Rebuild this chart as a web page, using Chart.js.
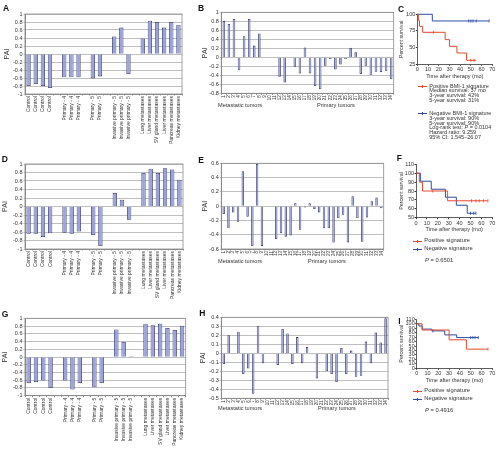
<!DOCTYPE html>
<html>
<head>
<meta charset="utf-8">
<script src="https://cdn.jsdelivr.net/npm/chart.js@4.4.1/dist/chart.umd.min.js"></script>
<style>
  body { margin: 0; background: #fff; }
  #fig { position: relative; width: 499px; height: 462px; overflow: hidden; font-family: "Liberation Sans", Arial, Helvetica, sans-serif; color: #333; }
  #fig canvas { position: absolute; }
  .lab { position: absolute; font-weight: bold; font-size: 8.5px; line-height: 8.5px; color: #111; }
  .txt { position: absolute; font-size: 5.6px; line-height: 5.6px; white-space: nowrap; }
  .leg { position: absolute; font-size: 5.5px; line-height: 4.7px; white-space: nowrap; }
  .key { position: absolute; width: 9px; height: 1px; }
  .key i { position: absolute; left: 4px; top: -1px; width: 1px; height: 3px; background: inherit; }
</style>
</head>
<body>
<div id="fig">
  <canvas id="chartA" width="192" height="152" style="left:0px;top:0px"></canvas>
  <canvas id="chartB" width="200" height="104" style="left:196px;top:0px"></canvas>
  <canvas id="chartC" width="103" height="82" style="left:396px;top:0px"></canvas>
  <canvas id="chartD" width="192" height="155" style="left:0px;top:152px"></canvas>
  <canvas id="chartE" width="200" height="108" style="left:196px;top:152px"></canvas>
  <canvas id="chartF" width="103" height="83" style="left:396px;top:152px"></canvas>
  <canvas id="chartG" width="192" height="155" style="left:0px;top:307px"></canvas>
  <canvas id="chartH" width="200" height="100" style="left:196px;top:307px"></canvas>
  <canvas id="chartI" width="103" height="79" style="left:396px;top:307px"></canvas>

  <div class="lab" style="left:3px;top:3.9px">A</div>
  <div class="lab" style="left:198px;top:3.9px">B</div>
  <div class="lab" style="left:398px;top:4.9px">C</div>
  <div class="lab" style="left:1.7px;top:154.6px">D</div>
  <div class="lab" style="left:198.3px;top:155.6px">E</div>
  <div class="lab" style="left:396.7px;top:153.9px">F</div>
  <div class="lab" style="left:1.7px;top:309.6px">G</div>
  <div class="lab" style="left:199.3px;top:308.9px">H</div>
  <div class="lab" style="left:398.3px;top:316.6px">I</div>

  <div class="txt" style="left:218px;top:102.9px">Metastatic tumors</div>
  <div class="txt" style="left:317px;top:102.9px">Primary tumors</div>
  <div class="txt" style="left:218px;top:258.9px">Metastatic tumors</div>
  <div class="txt" style="left:308px;top:258.9px">Primary tumors</div>
  <div class="txt" style="left:218px;top:406.2px">Metastatic tumors</div>
  <div class="txt" style="left:318px;top:406.2px">Primary tumors</div>

  <div class="key" style="left:418px;top:85.5px;background:#e5492c"><i></i></div>
  <div class="leg" style="left:429.3px;top:83.6px">Positive BMI-1 signature<br>Median survival: 37 mo<br>3-year survival: 42%<br>5-year survival: 31%</div>
  <div class="key" style="left:418px;top:113.2px;background:#2c4da3"><i></i></div>
  <div class="leg" style="left:429.3px;top:111.3px">Negative BMI-1 signature<br>3-year survival: 90%<br>5-year survival: 90%<br>Log-rank test: <i>P</i> = 0.0104<br>Hazard ratio: 9.259<br>95% CI: 1.545–26.07</div>

  <div class="key" style="left:413px;top:240.5px;background:#e5492c"><i></i></div>
  <div class="txt" style="left:424.3px;top:238.1px;font-size:5.8px">Positive signature</div>
  <div class="key" style="left:413px;top:248.8px;background:#2c4da3"><i></i></div>
  <div class="txt" style="left:424.3px;top:246.4px;font-size:5.8px">Negative signature</div>
  <div class="txt" style="left:425px;top:257.8px;font-size:5.8px"><i>P</i> = 0.6501</div>

  <div class="key" style="left:413px;top:390.5px;background:#e5492c"><i></i></div>
  <div class="txt" style="left:424.3px;top:388.1px;font-size:5.8px">Positive signature</div>
  <div class="key" style="left:413px;top:398.8px;background:#2c4da3"><i></i></div>
  <div class="txt" style="left:424.3px;top:396.4px;font-size:5.8px">Negative signature</div>
  <div class="txt" style="left:425px;top:408.1px;font-size:5.8px"><i>P</i> = 0.4916</div>
</div>
<script>
// sample groups (empty strings are the gaps between groups)
const sampleLabels = ['Control', 'Control', 'Control', 'Control', '',
  'Primary - 4', 'Primary - 4', 'Primary - 4', '',
  'Primary - 5', 'Primary - 5', '',
  'Invasive primary - 5', 'Invasive primary - 5', 'Invasive primary - 5', '',
  'Lung metastases', 'Liver metastases', 'SV gland metastases', 'Liver metastases', 'Pancreas metastases', 'Kidney metastases'];
const paiA = [-0.80, -0.75, -0.80, -0.85, null, -0.58, -0.58, -0.58, null, -0.61, -0.56, null, 0.44, 0.66, -0.50, null, 0.39, 0.83, 0.80, 0.66, 0.80, 0.73];
const paiD = [-0.64, -0.64, -0.72, -0.63, null, -0.62, -0.64, -0.59, null, -0.67, -0.93, null, 0.32, 0.16, -0.31, null, 0.79, 0.89, 0.79, 0.90, 0.87, 0.63];
const paiG = [-0.67, -0.65, -0.61, -0.80, null, -0.61, -0.84, -0.67, null, -0.78, -0.67, null, 0.71, 0.39, 0.02, null, 0.86, 0.82, 0.86, 0.75, 0.70, 0.81];

// tumors 1-34
const tumorIds = ['1', '2', '3', '4', '5', '6', '7', '8', '9', '10', '11', '12', '13', '14', '15', '16', '17',
  '18', '19', '20', '21', '22', '23', '24', '25', '26', '27', '28', '29', '30', '31', '32', '33', '34'];
const paiB = [0.81, 0.74, 0.85, -0.29, 0.47, 0.85, 0.26, 0.53, 0, 0, 0, -0.43, -0.56, 0, -0.21, -0.36, 0.22,
  -0.36, -0.64, -0.71, -0.19, -0.04, -0.27, -0.16, -0.04, 0.21, 0.11, -0.37, -0.19, -0.39, -0.32, -0.33, -0.30, -0.49];
const paiE = [-0.11, -0.31, -0.09, -0.22, 0.49, -0.15, -0.56, 0.59, -0.56, 0, 0, -0.46, -0.38, -0.43, -0.41, 0.04, -0.33,
  -0.02, 0.04, -0.04, -0.09, -0.31, -0.31, -0.51, -0.17, -0.12, -0.51, 0.14, -0.17, -0.50, -0.16, 0.07, 0.12, -0.03];
const paiH = [-0.12, 0.20, -0.01, 0.24, -0.23, -0.17, -0.45, 0.30, -0.11, 0, 0, -0.13, 0.27, 0.22, -0.12, 0.18, -0.11,
  0.07, -0.01, -0.28, -0.01, -0.20, -0.23, -0.32, 0.06, -0.23, 0.03, -0.26, -0.25, 0.13, -0.11, 0.23, 0.12, 0.39];

// survival curves (months, percent)
const cPosTime = [0, 1, 2, 5, 26, 30, 37, 46, 55];
const cPosSurv = [100, 91, 82, 73, 62, 52, 42, 31, 31];
const cPosCensTime = [15, 50, 53];
const cPosCensSurv = [73, 31, 31];
const cNegTime = [0, 14, 67];
const cNegSurv = [100, 90, 90];
const cNegCensTime = [48, 50, 52, 55, 67];
const cNegCensSurv = [90, 90, 90, 90, 90];

const fPosTime = [0, 3, 6, 29, 66];
const fPosSurv = [100, 90, 80, 69, 69];
const fPosCensTime = [15, 51, 55, 58, 62, 66];
const fPosCensSurv = [80, 69, 69, 69, 69, 69];
const fNegTime = [0, 4, 14, 27, 37, 47, 55];
const fNegSurv = [100, 91, 82, 73, 64, 55, 55];
const fNegCensTime = [50, 53, 55];
const fNegCensSurv = [55, 55, 55];

const iPosTime = [0, 5, 30, 46, 66];
const iPosSurv = [100, 86, 64, 43, 43];
const iPosCensTime = [66];
const iPosCensSurv = [43];
const iNegTime = [0, 2, 5, 14, 26, 37, 57];
const iNegSurv = [100, 95, 88, 84, 75, 69, 69];
const iNegCensTime = [15, 50, 52, 54, 57];
const iNegCensSurv = [84, 69, 69, 69, 69];

const barFill = '#9ba4da';
const barEdge = '#2a2f6a';
const gridColor = '#a3a3a3';
const frameColor = '#8a8a8a';
const ink = '#333';
const red = '#e5492c';
const blue = '#2c4da3';

Chart.defaults.font.family = '"Liberation Sans", Arial, Helvetica, sans-serif';
Chart.defaults.color = ink;

const frameBox = {
    id: 'frameBox',
    beforeDatasetsDraw(chart) {
        const a = chart.chartArea;
        const c = chart.ctx;
        c.save();
        c.strokeStyle = frameColor;
        c.lineWidth = 0.8;
        c.strokeRect(a.left, a.top, a.right - a.left, a.bottom - a.top);
        c.restore();
    }
};

// box: canvas position (x,y,w,h) and plot area edges (L,T,R,B), page coords
function pin(box){
    return {
        padding: {left: 0, top: box.T - box.y, right: box.x + box.w - box.R, bottom: 0},
        yFit: s => { s.width = box.L - box.x; s.paddingTop = 0; s.paddingBottom = 0; },
        xFit: s => { s.height = box.y + box.h - box.B; s.paddingLeft = 0; s.paddingRight = 0; }
    };
}

const fmt = v => String(Math.round(v * 10) / 10);

function barChart(id, labels, values, yMin, yMax, yStep, box, barPct, xFont, titlePad){
    const p = pin(box);
    const ctx = document.getElementById(id).getContext('2d');
    return new Chart(ctx, {
        type: 'bar',
        data: {
            labels: labels,
            datasets: [{
                data: values,
                backgroundColor: barFill,
                borderColor: barEdge,
                borderWidth: 0.8,
                barPercentage: barPct,
                categoryPercentage: 1
            }]
        },
        options: {
            responsive: false,
            animation: false,
            devicePixelRatio: 1,
            layout: {padding: p.padding},
            plugins: {legend: {display: false}, tooltip: {enabled: false}},
            scales: {
                x: {
                    grid: {drawOnChartArea: false, tickLength: 1.5, color: frameColor},
                    border: {color: frameColor},
                    ticks: {autoSkip: false, minRotation: 90, maxRotation: 90, padding: 0.5, font: {size: xFont}},
                    afterFit: p.xFit
                },
                y: {
                    min: yMin,
                    max: yMax,
                    grid: {color: gridColor, lineWidth: 0.7, tickLength: 1.5},
                    border: {color: frameColor},
                    ticks: {stepSize: yStep, autoSkip: false, padding: 1, font: {size: 5.5}, callback: fmt},
                    title: {display: true, text: 'PAI', font: {size: 7}, padding: {top: titlePad, bottom: 0}},
                    afterFit: p.yFit
                }
            }
        },
        plugins: [frameBox]
    });
}

function kmChart(id, box, yMin, yMax, yStep, curves){
    const p = pin(box);
    const datasets = [];
    curves.forEach(c => {
        datasets.push({
            data: c.t.map((t, i) => ({x: t, y: c.s[i]})),
            borderColor: c.color,
            borderWidth: 1,
            pointRadius: 0,
            stepped: true,
            fill: false,
            clip: false
        });
        datasets.push({
            data: c.ct.map((t, i) => ({x: t, y: c.cs[i]})),
            borderColor: c.color,
            borderWidth: 0.8,
            showLine: false,
            pointStyle: 'line',
            rotation: 90,
            pointRadius: 1.6,
            clip: false
        });
    });
    const ctx = document.getElementById(id).getContext('2d');
    return new Chart(ctx, {
        type: 'line',
        data: {datasets: datasets},
        options: {
            responsive: false,
            animation: false,
            devicePixelRatio: 1,
            layout: {padding: p.padding},
            plugins: {legend: {display: false}, tooltip: {enabled: false}},
            scales: {
                x: {
                    type: 'linear',
                    min: 0,
                    max: 70,
                    grid: {drawOnChartArea: false, tickLength: 1.5, color: ink},
                    border: {color: ink, width: 0.8},
                    ticks: {stepSize: 10, padding: 0.5, maxRotation: 0, font: {size: 5.5}},
                    title: {display: true, text: 'Time after therapy (mo)', font: {size: 5.5}, padding: {top: 0, bottom: 2}},
                    afterFit: p.xFit
                },
                y: {
                    min: yMin,
                    max: yMax,
                    grid: {drawOnChartArea: false, tickLength: 1.5, color: ink},
                    border: {color: ink, width: 0.8},
                    ticks: {stepSize: yStep, autoSkip: false, padding: 0.5, font: {size: 5.5}},
                    title: {display: true, text: 'Percent survival', font: {size: 5.3}, padding: {top: 2, bottom: 0}},
                    afterFit: p.yFit
                }
            }
        }
    });
}

barChart('chartA', sampleLabels, paiA, -1, 1, 0.2,
    {x: 0, y: 0, w: 192, h: 152, L: 25, T: 14, R: 182, B: 94}, 0.6, 5, 2.5);
barChart('chartD', sampleLabels, paiD, -1, 1, 0.2,
    {x: 0, y: 152, w: 192, h: 155, L: 25, T: 164, R: 183, B: 249}, 0.6, 5, 1);
barChart('chartG', sampleLabels, paiG, -1, 1, 0.2,
    {x: 0, y: 307, w: 192, h: 155, L: 25, T: 318.3, R: 185.7, B: 395.7}, 0.6, 5, 1);

barChart('chartB', tumorIds, paiB, -0.8, 1, 0.2,
    {x: 196, y: 0, w: 200, h: 104, L: 221.3, T: 12.3, R: 393.7, B: 93.3}, 0.5, 4.5, 4.5);
barChart('chartE', tumorIds, paiE, -0.6, 0.6, 0.2,
    {x: 196, y: 152, w: 200, h: 108, L: 221.3, T: 163.3, R: 383.7, B: 249}, 0.5, 4.5, 4.5);
barChart('chartH', tumorIds, paiH, -0.5, 0.4, 0.1,
    {x: 196, y: 307, w: 200, h: 100, L: 221.3, T: 317.3, R: 388, B: 398.3}, 0.5, 4.5, 3);

kmChart('chartC', {x: 396, y: 0, w: 103, h: 82, L: 417.3, T: 14.3, R: 492.3, B: 64.3}, 25, 100, 25, [
    {t: cPosTime, s: cPosSurv, ct: cPosCensTime, cs: cPosCensSurv, color: red},
    {t: cNegTime, s: cNegSurv, ct: cNegCensTime, cs: cNegCensSurv, color: blue}
]);
kmChart('chartF', {x: 396, y: 152, w: 103, h: 83, L: 416, T: 164.3, R: 492.3, B: 217.7}, 50, 110, 10, [
    {t: fPosTime, s: fPosSurv, ct: fPosCensTime, cs: fPosCensSurv, color: red},
    {t: fNegTime, s: fNegSurv, ct: fNegCensTime, cs: fNegCensSurv, color: blue}
]);
kmChart('chartI', {x: 396, y: 307, w: 103, h: 79, L: 416.7, T: 319.3, R: 492.3, B: 368.3}, 0, 110, 10, [
    {t: iPosTime, s: iPosSurv, ct: iPosCensTime, cs: iPosCensSurv, color: red},
    {t: iNegTime, s: iNegSurv, ct: iNegCensTime, cs: iNegCensSurv, color: blue}
]);
</script>
</body>
</html>
